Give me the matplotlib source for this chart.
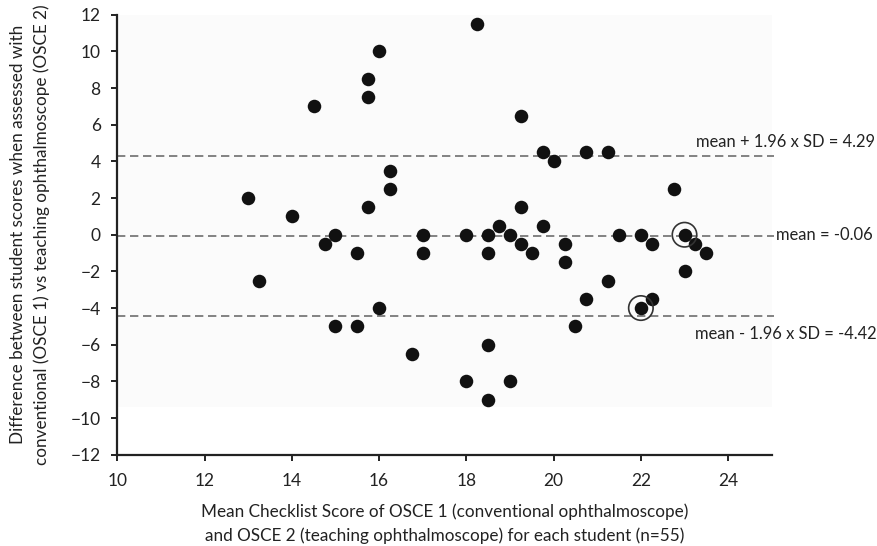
import matplotlib
matplotlib.use("Agg")
from matplotlib import pyplot as plt

plt.rcParams['font.family'] = ['Lato', 'DejaVu Sans']

# mean checklist score (x) and difference OSCE1 - OSCE2 (y)
mean_score = [16, 15.75, 15.75, 14.5, 16.25, 16.25, 13, 14, 15.75, 15,
              14.75, 17, 15.5, 17, 13.25, 16, 15, 15.5, 16.75, 18.25,
              19.25, 19.75, 20, 20.75, 21.25, 22.75, 19.25, 18.75, 19.75, 18,
              18.5, 19, 21.5, 22, 23, 19.25, 19.5, 18.5, 20.25, 20.25,
              22.25, 23.25, 23.5, 23, 21.25, 20.75, 22.25, 22, 20.5, 18.5,
              18, 19, 18.5]
difference = [10, 8.5, 7.5, 7, 3.5, 2.5, 2, 1, 1.5, 0,
              -0.5, 0, -1, -1, -2.5, -4, -5, -5, -6.5, 11.5,
              6.5, 4.5, 4, 4.5, 4.5, 2.5, 1.5, 0.5, 0.5, 0,
              0, 0, 0, 0, 0, -0.5, -1, -1, -0.5, -1.5,
              -0.5, -0.5, -1, -2, -2.5, -3.5, -3.5, -4, -5, -6,
              -8, -8, -9]

# highlighted (circled) students
circled_x = [23, 22]
circled_y = [0, -4]

mean_diff = -0.06
upper_loa = 4.29
lower_loa = -4.42

fig = plt.figure(figsize=(8.77, 5.46), dpi=100)
ax = fig.add_axes([0.1338, 0.1672, 0.7462, 0.8058])

ax.axhspan(-9.4, 12, color='#fbfbfb', zorder=0, lw=0)

for val in [upper_loa, mean_diff, lower_loa]:
    ax.plot([10, 25.05], [val, val], ls=(0, (5, 2.8)), color='#6e6e6e',
            lw=1.2, clip_on=False, zorder=1)

ax.scatter(mean_score, difference, s=95, color='#111111', zorder=3, lw=0)
ax.scatter(circled_x, circled_y, s=310, facecolors='none',
           edgecolors='#333333', lw=1.2, zorder=4)

ax.set_xlim(10, 25)
ax.set_ylim(-12, 12)
ax.set_xticks(range(10, 26, 2))
ax.set_yticks(range(-12, 13, 2))

for s in ['top', 'right']:
    ax.spines[s].set_visible(False)
for s in ['left', 'bottom']:
    ax.spines[s].set_linewidth(1.6)
    ax.spines[s].set_color('#222222')
ax.tick_params(direction='out', length=4, width=1.4, labelsize=12.5,
               colors='#222222', pad=8)
ax.tick_params(axis='x', pad=9.3)

ax.text(27.36, 5.07, 'mean + 1.96 x SD = 4.29', fontsize=11.9, va='center',
        ha='right', color='#222222', clip_on=False)
ax.text(25.1, 0, 'mean = -0.06', fontsize=11.9, va='center', color='#222222')
ax.text(27.4, -5.42, 'mean - 1.96 x SD = -4.42', fontsize=11.9, va='center',
        ha='right', color='#222222', clip_on=False)

ax.set_xlabel('Mean Checklist Score of OSCE 1 (conventional ophthalmoscope)\n'
              'and OSCE 2 (teaching ophthalmoscope) for each student (n=55)',
              fontsize=12.3, color='#222222', labelpad=10, linespacing=1.55)
ax.set_ylabel('Difference between student scores when assessed with\n'
              'conventional (OSCE 1) vs teaching ophthalmoscope (OSCE 2)',
              fontsize=12.3, color='#222222', labelpad=14.5, linespacing=1.55)

fig.savefig('out.png', dpi=100)
